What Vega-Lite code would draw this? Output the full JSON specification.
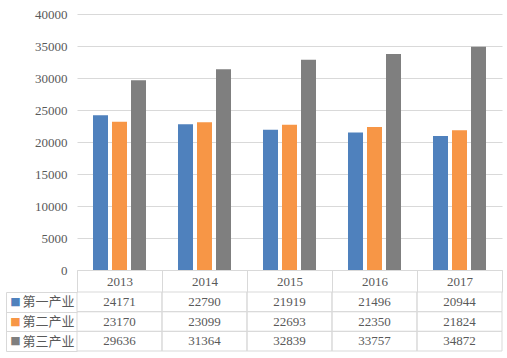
{
  "$schema": "https://vega.github.io/schema/vega-lite/v6.json",
  "background": "white",
  "padding": {"left": 5, "top": 8, "right": 5, "bottom": 5},
  "spacing": 22,
  "bounds": "flush",
  "datasets": {
    "d": [
      {"year": "2013", "series": "第一产业", "value": 24171},
      {"year": "2014", "series": "第一产业", "value": 22790},
      {"year": "2015", "series": "第一产业", "value": 21919},
      {"year": "2016", "series": "第一产业", "value": 21496},
      {"year": "2017", "series": "第一产业", "value": 20944},
      {"year": "2013", "series": "第二产业", "value": 23170},
      {"year": "2014", "series": "第二产业", "value": 23099},
      {"year": "2015", "series": "第二产业", "value": 22693},
      {"year": "2016", "series": "第二产业", "value": 22350},
      {"year": "2017", "series": "第二产业", "value": 21824},
      {"year": "2013", "series": "第三产业", "value": 29636},
      {"year": "2014", "series": "第三产业", "value": 31364},
      {"year": "2015", "series": "第三产业", "value": 32839},
      {"year": "2016", "series": "第三产业", "value": 33757},
      {"year": "2017", "series": "第三产业", "value": 34872}
    ]
  },
  "data": {"name": "d"},
  "resolve": {"scale": {"x": "independent", "y": "independent"}},
  "config": {
    "view": {"stroke": null},
    "font": "Liberation Serif",
    "axis": {"labelFont": "Liberation Serif", "labelFontSize": 13, "labelColor": "#595959", "gridColor": "#d9d9d9", "gridWidth": 1, "domainColor": "#d9d9d9", "tickColor": "#d9d9d9"}
  },
  "vconcat": [
    {
      "width": 425,
      "height": 256,
      "mark": {"type": "bar"},
      "encoding": {
        "x": {
          "field": "year", "type": "ordinal",
          "scale": {"paddingInner": 0, "paddingOuter": 0},
          "axis": {"title": null, "orient": "bottom", "tickSize": 22, "tickBand": "extent", "labelAngle": 0, "labelBaseline": "middle", "labelPadding": -11, "grid": false}
        },
        "xOffset": {
          "field": "series", "type": "nominal",
          "scale": {"domain": ["第一产业", "第二产业", "第三产业"], "paddingInner": 0.2105, "paddingOuter": 0.842}
        },
        "y": {
          "field": "value", "type": "quantitative",
          "scale": {"domain": [0, 40000]},
          "axis": {"title": null, "values": [0, 5000, 10000, 15000, 20000, 25000, 30000, 35000, 40000], "format": "d", "grid": true, "domain": false, "ticks": false, "labelPadding": 10, "minExtent": 71, "maxExtent": 71}
        },
        "color": {
          "field": "series", "type": "nominal",
          "scale": {"domain": ["第一产业", "第二产业", "第三产业"], "range": ["#4f81bd", "#f79646", "#7f7f7f"]},
          "legend": null
        }
      }
    },
    {
      "width": 425,
      "height": 59,
      "resolve": {"axis": {"y": "independent"}},
      "encoding": {
        "x": {
          "field": "year", "type": "ordinal",
          "scale": {"paddingInner": 0, "paddingOuter": 0},
          "axis": null
        }
      },
      "layer": [
        {
          "mark": {"type": "text", "font": "Liberation Serif", "fontSize": 13, "color": "#595959"},
          "encoding": {
            "y": {
              "field": "series", "type": "nominal",
              "scale": {"domain": ["第一产业", "第二产业", "第三产业"], "paddingInner": 0, "paddingOuter": 0},
              "axis": {"title": null, "orient": "left", "grid": false, "domain": false, "ticks": true, "tickBand": "extent", "tickSize": 71, "labelFont": "Noto Sans CJK SC", "labelFontSize": 13, "labelAlign": "left", "labelBaseline": "middle", "labelPadding": -16, "minExtent": 71, "maxExtent": 71}
            },
            "text": {"field": "value", "type": "quantitative", "format": "d"}
          }
        },
        {
          "mark": {"type": "rect", "fill": null, "filled": false, "stroke": "#d9d9d9", "strokeWidth": 1},
          "encoding": {
            "y": {
              "field": "series", "type": "nominal",
              "axis": {"title": null, "orient": "left", "offset": 71, "grid": false, "domain": true, "ticks": false, "labelFont": "DejaVu Sans", "labelFontSize": 11, "labelExpr": "'■'", "labelAlign": "center", "labelBaseline": "middle", "labelPadding": -9, "minExtent": 0, "maxExtent": 0,
                "labelColor": {"condition": [{"test": "datum.value === '第一产业'", "value": "#4f81bd"}, {"test": "datum.value === '第二产业'", "value": "#f79646"}], "value": "#7f7f7f"}}
            }
          }
        }
      ]
    }
  ]
}
